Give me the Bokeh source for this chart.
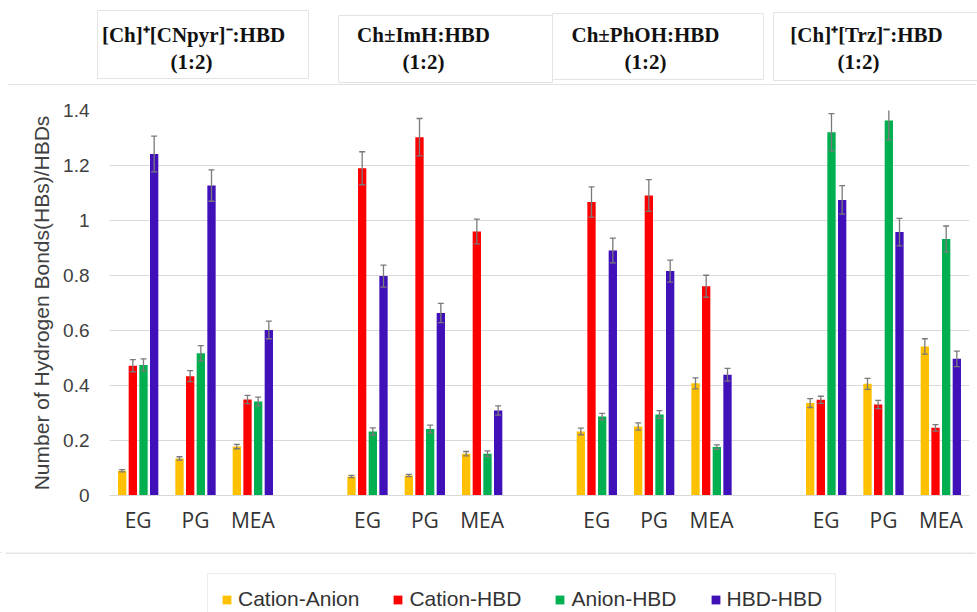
from bokeh.plotting import figure
from bokeh.models import Range1d, FixedTicker, CustomJSTickFormatter, Legend, LegendItem, ColumnDataSource
from bokeh.layouts import column
from bokeh.core.properties import value
from bokeh.embed import file_html
from bokeh.resources import INLINE

# ---------------- data ----------------
systems = ["[Ch]⁺[CNpyr]⁻:HBD", "Ch±ImH:HBD", "Ch±PhOH:HBD", "[Ch]⁺[Trz]⁻:HBD"]
ratio_label = "(1:2)"
hbds = ["EG", "PG", "MEA"]
series = ["Cation-Anion", "Cation-HBD", "Anion-HBD", "HBD-HBD"]
colors = ["#FFC000", "#FF0000", "#00B050", "#4010B8"]

# values ordered system by system, EG / PG / MEA inside each system
cation_anion = [0.090, 0.135, 0.178, 0.069, 0.073, 0.152, 0.233, 0.251, 0.408, 0.336, 0.406, 0.542]
cation_hbd = [0.472, 0.434, 0.349, 1.190, 1.303, 0.960, 1.067, 1.091, 0.761, 0.348, 0.331, 0.246]
anion_hbd = [0.475, 0.517, 0.342, 0.233, 0.242, 0.152, 0.287, 0.295, 0.176, 1.321, 1.364, 0.933]
hbd_hbd = [1.242, 1.127, 0.602, 0.798, 0.664, 0.309, 0.891, 0.816, 0.439, 1.075, 0.958, 0.497]

cation_anion_err = [0.004, 0.006, 0.008, 0.004, 0.004, 0.008, 0.012, 0.013, 0.020, 0.016, 0.020, 0.028]
cation_hbd_err = [0.022, 0.020, 0.015, 0.060, 0.068, 0.045, 0.055, 0.058, 0.040, 0.013, 0.015, 0.012]
anion_hbd_err = [0.022, 0.028, 0.016, 0.013, 0.014, 0.010, 0.012, 0.014, 0.008, 0.068, 0.070, 0.047]
hbd_hbd_err = [0.065, 0.057, 0.032, 0.040, 0.035, 0.017, 0.045, 0.040, 0.023, 0.052, 0.050, 0.028]

y_ticks = [0, 0.2, 0.4, 0.6, 0.8, 1.0, 1.2, 1.4]
y_label = "Number of Hydrogen Bonds(HBs)/HBDs"

values = [cation_anion, cation_hbd, anion_hbd, hbd_hbd]
errors = [cation_anion_err, cation_hbd_err, anion_hbd_err, hbd_hbd_err]

# ---------------- layout constants ----------------
W = 977
H_HEAD, H_MAIN, H_LEG = 85, 467, 60
SLOTS_PER_GROUP = len(hbds) + 1
N_SLOTS = len(systems) * SLOTS_PER_GROUP - 1
BAR_W = 0.145
BAR_PITCH = 0.186

slot_centers = [g * SLOTS_PER_GROUP + c + 0.5 for g in range(len(systems)) for c in range(len(hbds))]

# ---------------- main chart ----------------
p = figure(width=W, height=H_MAIN, x_range=Range1d(0, N_SLOTS), y_range=Range1d(0, 1.4),
           output_backend="svg", toolbar_location=None,
           min_border_left=109, min_border_right=8, min_border_top=25, min_border_bottom=57)
p.frame_align = False
p.outline_line_color = None
p.background_fill_color = "white"
p.border_fill_color = "white"
p.xgrid.grid_line_color = None
p.ygrid.grid_line_color = "#d9d9d9"
p.ygrid.grid_line_width = 1

for k, (vals, errs, col) in enumerate(zip(values, errors, colors)):
    xs = [sc + (k - 1.5) * BAR_PITCH for sc in slot_centers]
    src = ColumnDataSource(dict(x=xs, top=vals,
                                hi=[v + e for v, e in zip(vals, errs)],
                                lo=[v - e for v, e in zip(vals, errs)]))
    p.vbar(x="x", top="top", width=BAR_W, source=src, fill_color=col, line_color=None)
    p.segment(x0="x", y0="lo", x1="x", y1="hi", source=src, line_color="#7a7a7a", line_width=1.3)
    p.dash(x="x", y="hi", source=src, size=6, line_color="#7a7a7a", line_width=1.3)
    p.dash(x="x", y="lo", source=src, size=6, line_color="#7a7a7a", line_width=1.3)

# x axis
p.xaxis.ticker = FixedTicker(ticks=slot_centers)
p.xaxis.formatter = CustomJSTickFormatter(args=dict(labels=hbds + [""], n=SLOTS_PER_GROUP),
                                          code="const i = Math.round(tick - 0.5); return labels[i % n];")
p.xaxis.axis_line_color = "#d9d9d9"
p.xaxis.major_tick_line_color = None
p.xaxis.minor_tick_line_color = None
p.xaxis.major_tick_out = 0
p.xaxis.major_label_standoff = 10
p.xaxis.major_label_text_font = "Open Sans"
p.xaxis.major_label_text_font_size = "21px"
p.xaxis.major_label_text_color = "#333333"

# y axis
p.yaxis.ticker = FixedTicker(ticks=y_ticks)
p.yaxis.formatter = CustomJSTickFormatter(code="return tick.toFixed(1).replace(/\\.0$/, '');")
p.yaxis.axis_line_color = None
p.yaxis.major_tick_line_color = None
p.yaxis.minor_tick_line_color = None
p.yaxis.major_tick_out = 0
p.yaxis.major_label_standoff = 20
p.yaxis.major_label_text_font = "Liberation Sans"
p.yaxis.major_label_text_font_size = "19px"
p.yaxis.major_label_text_color = "#404040"
p.yaxis.axis_label = y_label
p.yaxis.axis_label_text_font = "Liberation Sans"
p.yaxis.axis_label_text_font_size = "21px"
p.yaxis.axis_label_text_font_style = "normal"
p.yaxis.axis_label_text_color = "#404040"
p.yaxis.axis_label_standoff = 7

# ---------------- header ----------------
h = figure(width=W, height=H_HEAD, x_range=Range1d(0, W), y_range=Range1d(H_HEAD, 0),
           output_backend="svg", toolbar_location=None, min_border=0,
           x_axis_location=None, y_axis_location=None)
h.frame_align = False
h.grid.visible = False
h.outline_line_color = None
h.border_fill_color = "white"
box_left = [97, 338, 552, 773]
box_right = [308, 552, 763, 990]
box_top = [10, 15, 13, 12]
box_bottom = [78, 82, 79, 80]
h.quad(left=box_left, right=box_right, top=box_top, bottom=box_bottom,
       fill_color="white", line_color="#e4e4e4", line_width=1)
h.segment(x0=[7], y0=[84.5], x1=[975], y1=[84.5], line_color="#d9d9d9", line_width=1.5)
title_x = [193, 423, 645, 866]
ratio_x = [191, 423, 645, 858]
h.text(x=title_x, y=[34] * 4, text=systems, text_align="center", text_baseline="middle",
       text_font=value("Liberation Serif"), text_font_style="bold", text_font_size="21px",
       text_color="#111111")
h.text(x=ratio_x, y=[61] * 4, text=[ratio_label] * 4, text_align="center",
       text_baseline="middle", text_font=value("Liberation Serif"), text_font_style="bold",
       text_font_size="21px", text_color="#111111")

# ---------------- legend strip ----------------
y0_leg = H_HEAD + H_MAIN
lf = figure(width=W, height=H_LEG, x_range=Range1d(0, W), y_range=Range1d(y0_leg + H_LEG, y0_leg),
            output_backend="svg", toolbar_location=None, min_border=0,
            x_axis_location=None, y_axis_location=None)
lf.frame_align = False
lf.grid.visible = False
lf.outline_line_color = None
lf.border_fill_color = "white"
lf.segment(x0=[5], y0=[y0_leg + 0.5], x1=[975], y1=[y0_leg + 0.5], line_color="#dcdcdc", line_width=1.5)
items = []
for s, col in zip(series, colors):
    # dummy renderer kept outside the visible range, only used for the legend swatch
    r = lf.vbar(x=[0], top=[0], bottom=[0], width=1, fill_color=col, line_color=None)
    items.append(LegendItem(label=s, renderers=[r]))
leg = Legend(items=items, orientation="horizontal", location=(207, -13),
             label_text_font="Liberation Sans", label_text_font_size="21px",
             label_text_color="#333333", glyph_width=11, glyph_height=11,
             label_standoff=6, spacing=33, padding=13, margin=0,
             border_line_color="#d9d9d9", background_fill_color="white", background_fill_alpha=1)
lf.add_layout(leg, "center")

layout = column(h, p, lf, spacing=0)
open("out.html", "w").write(file_html(layout, INLINE))
